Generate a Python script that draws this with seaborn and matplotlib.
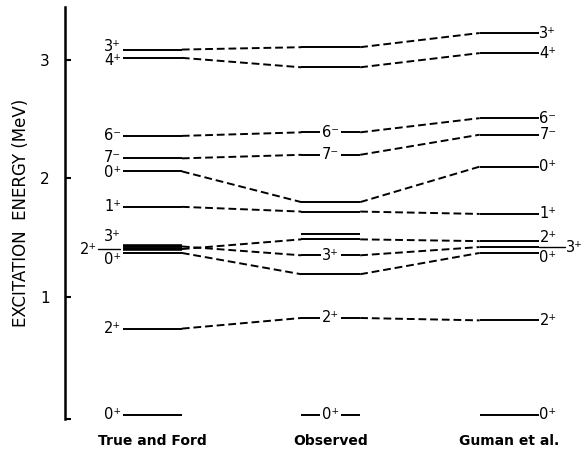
import matplotlib
matplotlib.use("Agg")
import matplotlib.pyplot as plt
import numpy as np
import pandas as pd
import seaborn as sns

# Level schemes (excitation energy in MeV and spin-parity)
columns = ["True and Ford", "Observed", "Guman et al."]

tf_energy = [3.09, 3.02, 2.36, 2.17, 2.06, 1.76, 1.425, 1.403, 1.37, 0.73, 0.0]
tf_spin = ["3+", "4+", "6-", "7-", "0+", "1+", "3+", "2+", "0+", "2+", "0+"]

obs_energy = [3.11, 2.94, 2.39, 2.20, 1.80, 1.72, 1.53, 1.485, 1.35, 1.19, 0.82, 0.0]
obs_spin = ["", "", "6-", "7-", "", "", "", "", "3+", "", "2+", "0+"]

gu_energy = [3.23, 3.06, 2.51, 2.37, 2.10, 1.70, 1.47, 1.42, 1.37, 0.80, 0.0]
gu_spin = ["3+", "4+", "6-", "7-", "0+", "1+", "2+", "3+", "0+", "2+", "0+"]

# Correspondences between levels: (True and Ford, Observed, Guman et al.) indices
chains = [(0, 0, 0), (1, 1, 1), (2, 2, 2), (3, 3, 3), (4, 4, 4),
          (5, 5, 5), (6, 8, 7), (7, 7, 6), (8, 9, 8), (9, 10, 9)]

yticks = [1, 2, 3]

sns.set_theme(style="white")
plt.rcParams["font.family"] = ["DejaVu Sans"]
plt.rcParams["text.color"] = "black"
plt.rcParams["axes.labelcolor"] = "black"
plt.rcParams["xtick.color"] = "black"
plt.rcParams["ytick.color"] = "black"

HW = 0.165      # half width of a level bar (column units)
LW = 1.4


def spin_txt(s):
    return s[:-1] + ("\u207b" if s[-1] == "-" else "\u207a")


fig = plt.figure(figsize=(5.84, 4.53), dpi=100)
ax = fig.add_axes([65 / 584, 34.5 / 453, 519 / 584, 411.5 / 453])
ax.set_xlim(-0.49, 2.42)
ax.set_ylim(-0.03, 3.45)

schemes = [tf_energy, obs_energy, gu_energy]

# Dashed connectors between corresponding levels
rows = []
for k, (a, b, c) in enumerate(chains):
    e0, e1, e2 = tf_energy[a], obs_energy[b], gu_energy[c]
    rows += [dict(x=0 + HW, E=e0, seg=2 * k), dict(x=1 - HW, E=e1, seg=2 * k),
             dict(x=1 + HW, E=e1, seg=2 * k + 1), dict(x=2 - HW, E=e2, seg=2 * k + 1)]
conn = pd.DataFrame(rows)
sns.lineplot(data=conn, x="x", y="E", units="seg", estimator=None, sort=False,
             color="black", lw=LW, ax=ax, linestyle=(0, (4, 2)), legend=False)

# Level bars
for col, energies in enumerate(schemes):
    widths = [LW] * len(energies)
    if col == 0:
        widths[6] = widths[7] = 2.6
    for e, w in zip(energies, widths):
        ax.plot([col - HW, col + HW], [e, e], color="black", lw=w,
                solid_capstyle="butt", zorder=3)

fs = 10.5
# True and Ford labels on the left of the bars
for i, (e, s) in enumerate(zip(tf_energy, tf_spin)):
    if i == 7:
        ax.text(-0.31, e, spin_txt(s), ha="right", va="center", fontsize=fs)
        ax.plot([-0.305, -0.18], [e, e], color="black", lw=1.0)
        continue
    dy = {0: 0.03, 1: -0.02, 3: 0.01, 4: -0.01, 6: 0.08, 8: -0.055}.get(i, 0.0)
    ax.text(-HW - 0.01, e + dy, spin_txt(s), ha="right", va="center", fontsize=fs)

# Observed labels sit inside the bars
for e, s in zip(obs_energy, obs_spin):
    if s:
        ax.text(1, e, spin_txt(s), ha="center", va="center", fontsize=fs, zorder=5,
                bbox=dict(boxstyle="square,pad=0.12", fc="white", ec="none"))

# Guman et al. labels on the right
for i, (e, s) in enumerate(zip(gu_energy, gu_spin)):
    if i == 7:
        ax.plot([2 + HW, 2.315], [e, e], color="black", lw=1.0)
        ax.text(2.32, e, spin_txt(s), ha="left", va="center", fontsize=fs)
        continue
    dy = {6: 0.03, 8: -0.04}.get(i, 0.0)
    ax.text(2 + HW + 0.005, e + dy, spin_txt(s), ha="left", va="center", fontsize=fs)

# Axes styling
sns.despine(ax=ax, bottom=True)
ax.spines["left"].set_linewidth(1.8)
ax.spines["left"].set_color("black")
ax.set_yticks(yticks)
ax.set_yticklabels([str(t) for t in yticks], fontsize=11)
ax.set_yticks([ax.get_ylim()[0]], minor=True)
ax.tick_params(axis="y", which="both", direction="in", length=4, width=1.5,
               color="black", pad=11, left=True)
ax.tick_params(axis="y", which="minor", labelleft=False)
ax.set_xticks(range(len(columns)))
ax.set_xticklabels(columns, fontsize=10, fontweight="bold")
ax.tick_params(axis="x", length=0, pad=11)
ax.set_ylabel("EXCITATION  ENERGY (MeV)", fontsize=12)
ax.yaxis.set_label_coords(-0.068, 0.50)
ax.set_xlabel("")
ax.grid(False)

fig.savefig("out.png", dpi=100)
